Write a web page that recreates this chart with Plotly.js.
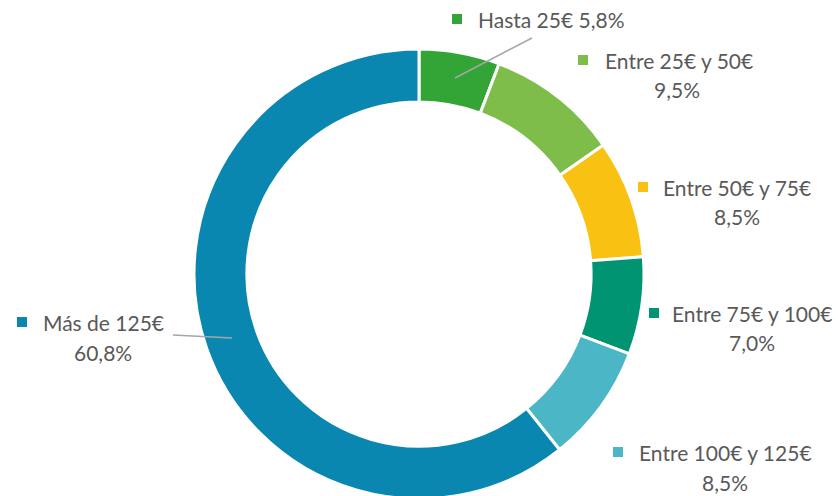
<!DOCTYPE html>
<html>
<head>
<meta charset="utf-8">
<script src="https://cdn.plot.ly/plotly-3.0.1.min.js"></script>
<style>
html,body{margin:0;padding:0;overflow:hidden;background:#fff;}
#chart{width:838px;height:500px;}
</style>
</head>
<body>
<div id="chart"></div>
<script>
const categories = ["Hasta 25€", "Entre 25€ y 50€", "Entre 50€ y 75€", "Entre 75€ y 100€", "Entre 100€ y 125€", "Más de 125€"];
const values = [5.8, 9.5, 8.5, 7.0, 8.5, 60.8];
const colors = ["#33a537", "#7fbd4b", "#f9c213", "#009472", "#4bb6c6", "#0a87b0"];
const singleLine = [true, false, false, false, false, false];

// label layout (pixel positions: square marker, first line, second line)
const labelPos = [
  {sq:[457,19], l1:[476,19], anchor:"left"},
  {sq:[583,60], l1:[679,60], l2:[677,90], anchor:"center"},
  {sq:[643,187], l1:[737,187], l2:[737,217], anchor:"center"},
  {sq:[654,313], l1:[752,313], l2:[752,342], anchor:"center"},
  {sq:[618,452], l1:[725,452], l2:[725,482], anchor:"center"},
  {sq:[22,322], l1:[103,322], l2:[103,352], anchor:"center"}
];

const W = 838, H = 500;
const px = x => x / W;
const py = y => 1 - y / H;
const fmt = v => v.toFixed(1).replace(".", ",") + "%";

const font = {family: "Lato, 'Open Sans', sans-serif", size: 21, color: "#595959"};

const annotations = [];
categories.forEach((c, i) => {
  const p = labelPos[i];
  annotations.push({
    xref: "paper", yref: "paper",
    x: px(p.l1[0]), y: py(p.l1[1]),
    xanchor: p.anchor, yanchor: "middle",
    text: singleLine[i] ? c + " " + fmt(values[i]) : c,
    showarrow: false, font: font
  });
  if (!singleLine[i]) {
    annotations.push({
      xref: "paper", yref: "paper",
      x: px(p.l2[0]), y: py(p.l2[1]),
      xanchor: "center", yanchor: "middle",
      text: fmt(values[i]),
      showarrow: false, font: font
    });
  }
});

const shapes = categories.map((c, i) => ({
  type: "rect", xref: "paper", yref: "paper",
  x0: px(labelPos[i].sq[0] - 5), x1: px(labelPos[i].sq[0] + 5),
  y0: py(labelPos[i].sq[1] + 5), y1: py(labelPos[i].sq[1] - 5),
  fillcolor: colors[i], line: {width: 0}
}));
// leader lines
shapes.push({type:"line", xref:"paper", yref:"paper", x0:px(455), y0:py(78), x1:px(532), y1:py(38), line:{color:"#a6a6a6", width:1.5}});
shapes.push({type:"line", xref:"paper", yref:"paper", x0:px(173), y0:py(335), x1:px(232), y1:py(338), line:{color:"#a6a6a6", width:1.5}});

const trace = {
  type: "pie",
  labels: categories,
  values: values,
  hole: 0.765,
  sort: false,
  direction: "clockwise",
  rotation: 0,
  textinfo: "none",
  hoverinfo: "label+percent",
  marker: {colors: colors, line: {color: "#ffffff", width: 3}},
  domain: {x: [194 / W, 644 / W], y: [1 - 499 / H, 1 - 49 / H]}
};

const layout = {
  width: W, height: H,
  margin: {l: 0, r: 0, t: 0, b: 0},
  showlegend: false,
  paper_bgcolor: "#ffffff",
  annotations: annotations,
  shapes: shapes
};

Plotly.newPlot("chart", [trace], layout, {displayModeBar: false, staticPlot: true});
</script>
</body>
</html>
